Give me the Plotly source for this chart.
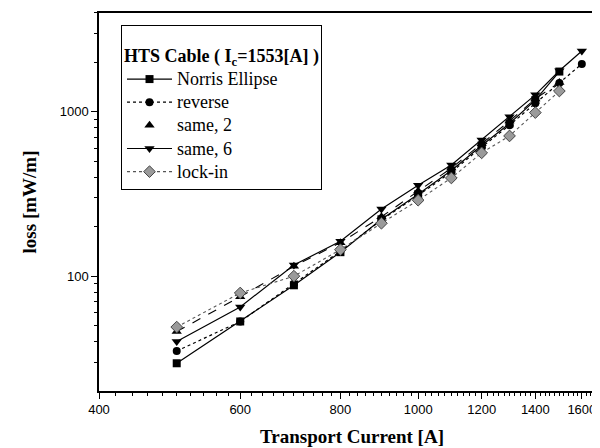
import plotly.graph_objects as go

current = [500, 600, 700, 800, 900, 1000, 1100, 1200, 1300, 1400, 1500, 1600]
norris = [29.5, 53, 88, 140, 222, 315, 440, 625, 850, 1180, 1760]
reverse = [35, 53, 90, 142, 220, 310, 430, 610, 830, 1130, 1500, 1960]
same2 = [46, 75, 115, 160, 230, 330, 455, 640, 880, 1200, 1510]
same6 = [40, 65, 117, 163, 256, 358, 475, 675, 933, 1270, 1780, 2350]
lockin = [49, 79, 100, 145, 210, 290, 396, 563, 714, 990, 1340]

x_major = [400, 600, 800, 1000, 1200, 1400, 1600]
x_minor = [v for v in range(420, 1720, 20) if v not in x_major]
y_major = [100, 1000]
y_minor = [30, 40, 50, 60, 70, 80, 90, 200, 300, 400, 500, 600, 700, 800, 900, 2000, 3000, 4000]


def big(t):
    return '<span style="font-size:18px">' + t + '</span>'


fig = go.Figure()

fig.add_trace(go.Scatter(x=current[:len(norris)], y=norris, name=big("Norris Ellipse"),
                         mode="lines+markers", legendgroup="a",
                         line=dict(color="black", width=1.2),
                         marker=dict(symbol="square", size=8, color="black")))
fig.add_trace(go.Scatter(x=current[:len(reverse)], y=reverse, name=big("reverse"),
                         mode="lines+markers", legendgroup="b",
                         line=dict(color="black", width=1.2, dash="dot"),
                         marker=dict(symbol="circle", size=8, color="black")))
fig.add_trace(go.Scatter(x=current[:len(same2)], y=same2, name=big("same, 2"),
                         mode="lines+markers", legendgroup="c", showlegend=False,
                         line=dict(color="black", width=1.1, dash="dash"),
                         marker=dict(symbol="triangle-up", size=9, color="black")))
fig.add_trace(go.Scatter(x=[None], y=[None], name=big("same, 2"),
                         mode="markers", legendgroup="c",
                         marker=dict(symbol="triangle-up", size=9, color="black")))
fig.add_trace(go.Scatter(x=current[:len(same6)], y=same6, name=big("same, 6"),
                         mode="lines+markers", legendgroup="d",
                         line=dict(color="black", width=1.2),
                         marker=dict(symbol="triangle-down", size=9, color="black")))
fig.add_trace(go.Scatter(x=current[:len(lockin)], y=lockin, name=big("lock-in"),
                         mode="lines+markers", legendgroup="e",
                         line=dict(color="#555555", width=1.1, dash="dot"),
                         marker=dict(symbol="diamond", size=9, color="#9a9a9a",
                                     line=dict(color="#444444", width=1))))

fig.update_layout(
    width=600, height=448,
    margin=dict(l=91, r=3, t=5, b=65, autoexpand=False),
    paper_bgcolor="white", plot_bgcolor="white",
    showlegend=True,
    legend=dict(
        x=0.0435, y=0.968, xanchor="left", yanchor="top",
        bgcolor="white", bordercolor="black", borderwidth=1,
        font=dict(family="Liberation Serif", size=15.5, color="black"),
        title=dict(text="\u00a0<br>" + big("<b>HTS Cable ( I<sub>c</sub>=1553[A] )</b>"),
                   font=dict(family="Liberation Serif", size=14, color="black")),
        tracegroupgap=0,
        itemwidth=45,
    ),
    xaxis=dict(
        type="log", range=[2.60206, 3.233], automargin=False,
        tickmode="array", tickvals=x_major, ticktext=[str(v) for v in x_major],
        ticks="outside", ticklen=6, tickwidth=1.2, tickcolor="black",
        showgrid=False, zeroline=False,
        showline=True, linecolor="black", linewidth=1.5, mirror=True,
        tickfont=dict(family="Liberation Sans", size=13, color="black"),
        title=dict(text="<b>Transport Current [A]</b>", standoff=13,
                   font=dict(family="Liberation Serif", size=19, color="black")),
        minor=dict(tickmode="array", tickvals=x_minor, ticks="outside",
                   ticklen=3, tickwidth=1, tickcolor="black", showgrid=False),
    ),
    yaxis=dict(
        type="log", range=[1.30103, 3.602], automargin=False,
        tickmode="array", tickvals=y_major, ticktext=[str(v) for v in y_major],
        ticks="outside", ticklen=6, tickwidth=1.2, tickcolor="black",
        showgrid=False, zeroline=False,
        showline=True, linecolor="black", linewidth=1.5, mirror=True,
        tickfont=dict(family="Liberation Sans", size=13, color="black"),
        title=dict(text="<b>loss [mW/m]</b>", standoff=18,
                   font=dict(family="Liberation Serif", size=19, color="black")),
        minor=dict(tickmode="array", tickvals=y_minor, ticks="outside",
                   ticklen=3, tickwidth=1, tickcolor="black", showgrid=False),
    ),
)

fig.write_html("out.html")
